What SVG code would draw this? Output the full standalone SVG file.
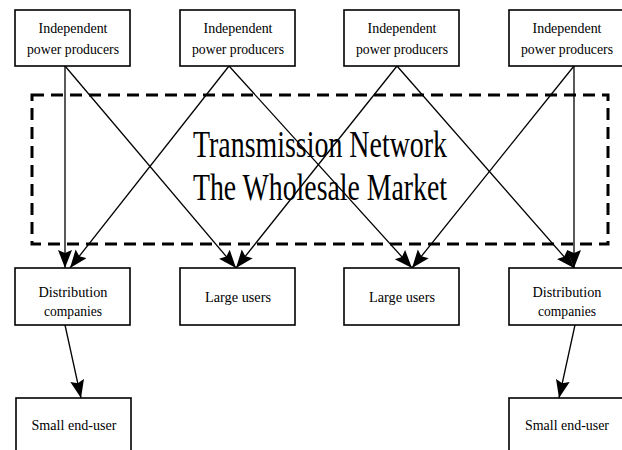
<svg xmlns="http://www.w3.org/2000/svg" width="622" height="450" viewBox="0 0 622 450">
<style>
.box{fill:#fff;stroke:#000;stroke-width:1.6}
.t{font-family:"Liberation Serif","Times New Roman",serif;font-size:15px;fill:#000;text-anchor:middle}
.big{font-family:"Liberation Serif","Times New Roman",serif;font-size:37px;fill:#000;text-anchor:middle}
.c{stroke:#000;stroke-width:1.3;fill:none;marker-end:url(#ah)}
</style>
<defs>
<marker id="ah" markerUnits="userSpaceOnUse" markerWidth="20" markerHeight="16" refX="18" refY="7" orient="auto">
<path d="M0,0 L18,7 L0,14 L3,7 z" fill="#000"/>
</marker>
</defs>
<rect width="622" height="450" fill="#fff"/>
<g id="market">
<rect x="32" y="95" width="576" height="149" fill="none" stroke="#000" stroke-width="3" stroke-dasharray="12,7"/>
<text class="big" x="320" y="157" textLength="254" lengthAdjust="spacingAndGlyphs">Transmission Network</text>
<text class="big" x="320" y="200" textLength="254" lengthAdjust="spacingAndGlyphs">The Wholesale Market</text>
</g>
<g id="connectors">
<line class="c" x1="65" y1="66" x2="65" y2="268"/>
<line class="c" x1="65" y1="66" x2="236" y2="268"/>
<line class="c" x1="229" y1="66" x2="70" y2="268"/>
<line class="c" x1="229" y1="66" x2="412" y2="268"/>
<line class="c" x1="397" y1="66" x2="236" y2="268"/>
<line class="c" x1="397" y1="66" x2="574" y2="268"/>
<line class="c" x1="574" y1="66" x2="412" y2="268"/>
<line class="c" x1="574" y1="66" x2="574" y2="268"/>
<line class="c" x1="65" y1="325" x2="81" y2="398"/>
<line class="c" x1="575" y1="325" x2="559" y2="398"/>
</g>
<g id="ipp1"><rect class="box" x="15" y="10" width="115" height="56"/><text class="t" x="73" y="33" textLength="69" lengthAdjust="spacingAndGlyphs">Independent</text><text class="t" x="73" y="54" textLength="92" lengthAdjust="spacingAndGlyphs">power producers</text></g>
<g id="ipp2"><rect class="box" x="180" y="10" width="115" height="56"/><text class="t" x="238" y="33" textLength="69" lengthAdjust="spacingAndGlyphs">Independent</text><text class="t" x="238" y="54" textLength="92" lengthAdjust="spacingAndGlyphs">power producers</text></g>
<g id="ipp3"><rect class="box" x="344" y="10" width="115" height="56"/><text class="t" x="402" y="33" textLength="69" lengthAdjust="spacingAndGlyphs">Independent</text><text class="t" x="402" y="54" textLength="92" lengthAdjust="spacingAndGlyphs">power producers</text></g>
<g id="ipp4"><rect class="box" x="509" y="10" width="115" height="56"/><text class="t" x="567" y="33" textLength="69" lengthAdjust="spacingAndGlyphs">Independent</text><text class="t" x="567" y="54" textLength="92" lengthAdjust="spacingAndGlyphs">power producers</text></g>
<g id="dist1"><rect class="box" x="15" y="268" width="115" height="57"/><text class="t" x="73" y="297" textLength="69" lengthAdjust="spacingAndGlyphs">Distribution</text><text class="t" x="73" y="316" textLength="58" lengthAdjust="spacingAndGlyphs">companies</text></g>
<g id="large1"><rect class="box" x="180" y="268" width="115" height="57"/><text class="t" x="238" y="302" textLength="66" lengthAdjust="spacingAndGlyphs">Large users</text></g>
<g id="large2"><rect class="box" x="344" y="268" width="115" height="57"/><text class="t" x="402" y="302" textLength="66" lengthAdjust="spacingAndGlyphs">Large users</text></g>
<g id="dist2"><rect class="box" x="509" y="268" width="115" height="57"/><text class="t" x="567" y="297" textLength="69" lengthAdjust="spacingAndGlyphs">Distribution</text><text class="t" x="567" y="316" textLength="58" lengthAdjust="spacingAndGlyphs">companies</text></g>
<g id="small1"><rect class="box" x="16" y="398" width="115" height="60"/><text class="t" x="74" y="430" textLength="85" lengthAdjust="spacingAndGlyphs">Small end-user</text></g>
<g id="small2"><rect class="box" x="509" y="398" width="115" height="60"/><text class="t" x="567" y="430" textLength="84" lengthAdjust="spacingAndGlyphs">Small end-user</text></g>
</svg>
